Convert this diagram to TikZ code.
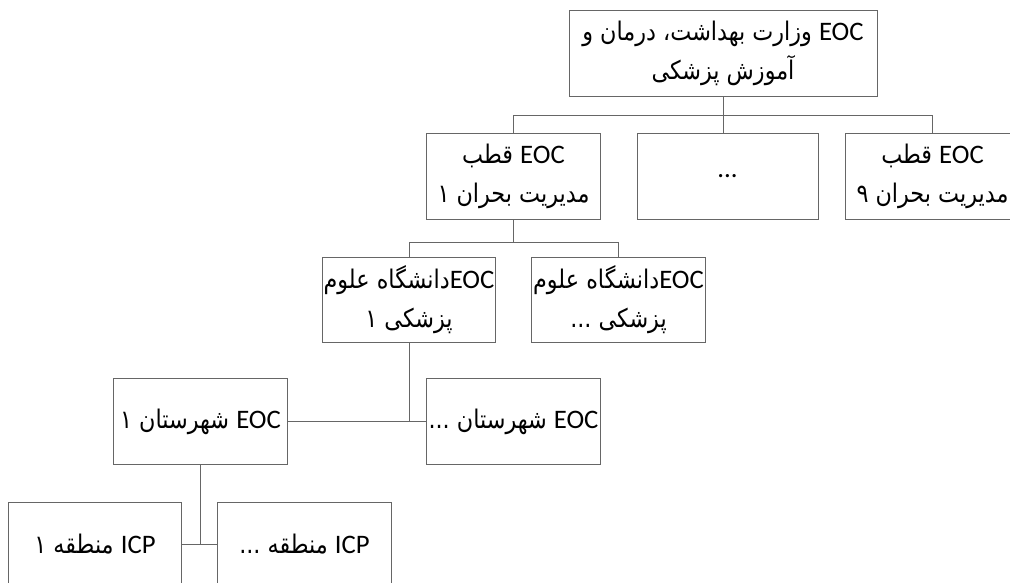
\documentclass[tikz,border=0pt]{standalone}
\usepackage{fontspec}
\setmainfont{Carlito}
\newfontfamily\farsifont[Script=Arabic, Scale=0.96, FakeStretch=0.87]{DejaVu Sans}
\TeXXeTstate=1
\usetikzlibrary{positioning}
\tikzset{orgbox/.style = {draw=black!60, line width=0.7pt,
                          minimum width=4.33cm, minimum height=2.17cm,
                          inner sep=0pt, align=center,
                          font=\fontsize{19}{28}\selectfont},
         conn/.style = {draw=black!60, line width=0.7pt}}
\newcommand{\fa}[1]{\makebox[0pt]{\farsifont\beginR #1\endR}}
\newcommand{\eoc}{\beginL{\rmfamily EOC}\endL}
\newcommand{\icp}{\beginL{\rmfamily ICP}\endL}

\begin{document}
\begin{tikzpicture}
    \useasboundingbox (0, 0) rectangle (25.25, -14.575);

    \node [orgbox, minimum width=7.7cm] (vezarat) at (18.075, -1.3375)
        {\fa{\eoc{} وزارت بهداشت، درمان و}\\ \fa{آموزش پزشکی}};

    \node [orgbox] (qotb1) at (12.8375, -4.4125) {\fa{\eoc{} قطب}\\ \fa{مدیریت بحران ۱}};
    \node [orgbox, minimum width=4.525cm] (qotbdots) at (18.1875, -4.4125) {...};
    \node [orgbox] (qotb9) at (23.3125, -4.4125) {\fa{\eoc{} قطب}\\ \fa{مدیریت بحران  ۹}};

    \node [orgbox, minimum height=2.125cm] (uni1) at (10.225, -7.4875) {\fa{\eoc دانشگاه علوم}\\ \fa{پزشکی ۱}};
    \node [orgbox, minimum height=2.125cm] (uni2) at (15.4625, -7.4875) {\fa{\eoc دانشگاه علوم}\\ \fa{پزشکی ...}};

    \node [orgbox] (shahr1) at (5.0125, -10.5375) {\fa{\eoc{} شهرستان ۱}};
    \node [orgbox] (shahr2) at (12.8375, -10.5375) {\fa{\eoc{} شهرستان ...}};

    \node [orgbox, minimum height=2.1cm] (mant1) at (2.375, -13.6) {\fa{\icp{} منطقه ۱}};
    \node [orgbox, minimum height=2.1cm] (mant2) at (7.6125, -13.6) {\fa{\icp{} منطقه ...}};

    \draw [conn] (vezarat.south) -- (vezarat.south |- qotbdots.north);
    \draw [conn] (qotb1.north) |- ([yshift=-0.45cm]vezarat.south) -| (qotb9.north);
    \draw [conn] (qotb1.south) -- ([yshift=-0.55cm]qotb1.south);
    \draw [conn] (uni1.north) |- ([yshift=-0.55cm]qotb1.south) -| (uni2.north);
    \draw [conn] (uni1.south) -- (uni1.south |- shahr1.east);
    \draw [conn] (shahr1.east) -- (shahr2.west);
    \draw [conn] (shahr1.south) -- (shahr1.south |- mant1.east);
    \draw [conn] (mant1.east) -- (mant2.west);
  \end{tikzpicture}
\end{document}
